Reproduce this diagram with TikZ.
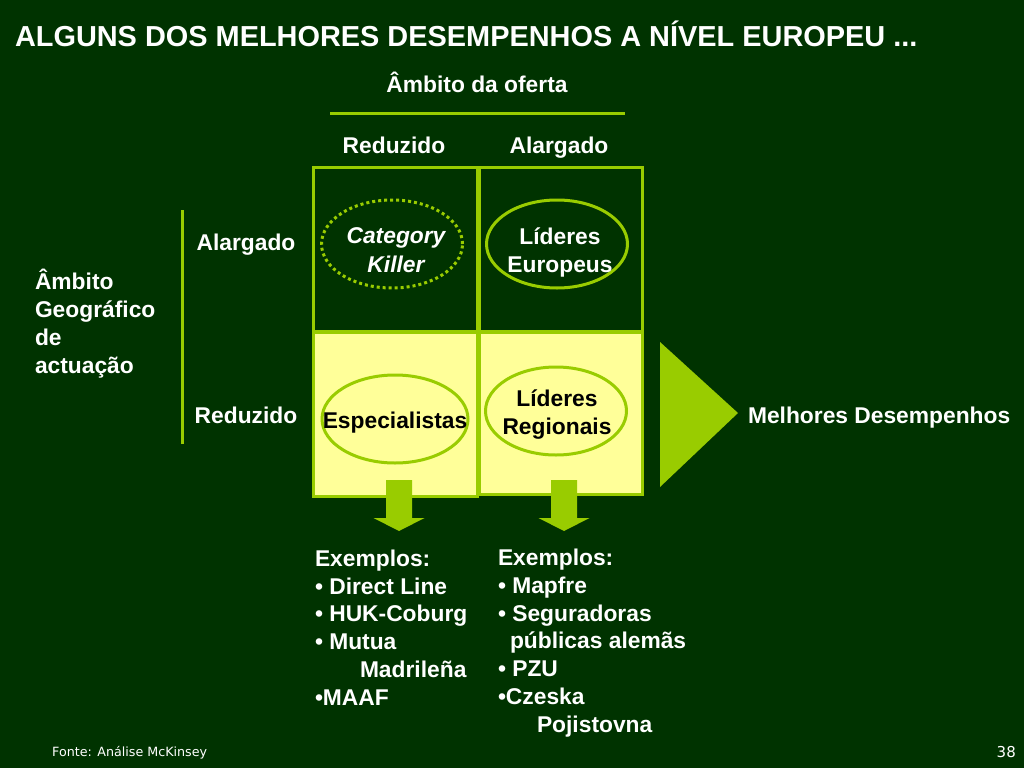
\documentclass[tikz,border=0pt]{standalone}
\usepackage{fontspec}
\setmainfont{Liberation Sans}
\newfontfamily\footfont{DejaVu Sans}
\usepackage{tikz}
\usetikzlibrary{shapes.geometric}
\usepackage{xcolor}
\definecolor{bggreen}{RGB}{0,51,0}
\definecolor{lime}{RGB}{153,204,0}
\definecolor{paleyellow}{RGB}{255,255,153}
\tikzstyle{txt}=[inner sep=0pt, outer sep=0pt, text=white, font=\bfseries\fontsize{22.8}{27.7}\selectfont]
\tikzstyle{darktxt}=[txt, text=black]
\tikzstyle{cell}=[draw=lime, line width=3pt, fill=bggreen, minimum width=164pt, minimum height=164pt, inner sep=0pt]
\tikzstyle{litcell}=[cell, fill=paleyellow]
\tikzstyle{ring}=[ellipse, draw=lime, line width=3pt, minimum width=141pt, minimum height=88pt, inner sep=0pt]
\tikzstyle{bar}=[draw=lime, line width=3pt]
\tikzstyle{block}=[fill=lime, draw=none]

\begin{document}
\begin{tikzpicture}[x=1pt, y=-1pt]
	% background
	\fill[bggreen] (0,0) rectangle (1024,768);
	\useasboundingbox (0,0) rectangle (1024,768);

	\node[txt, anchor=base west, font=\bfseries\fontsize{28.9}{32}\selectfont] (title) at (15,46) {ALGUNS DOS MELHORES DESEMPENHOS A NÍVEL EUROPEU ...};

	% axis: offer
	\node[txt, anchor=base] (oferta) at (477,92) {Âmbito da oferta};
	\coordinate (of_l) at (330,113);
	\coordinate (of_r) at (625,113);
	\draw[bar] (of_l) -- (of_r);
	\node[txt, anchor=base] (of_red) at (394,153) {Reduzido};
	\node[txt, anchor=base] (of_alg) at (559,153) {Alargado};

	% axis: geography
	\coordinate (geo_t) at (182,210);
	\coordinate (geo_b) at (182,444);
	\draw[bar] (geo_t) -- (geo_b);
	\node[txt, anchor=base west, align=left] (geo) at (35,373) {Âmbito\\Geográfico\\de\\actuação};
	\node[txt, anchor=base] (geo_alg) at (246,250) {Alargado};
	\node[txt, anchor=base] (geo_red) at (246,423) {Reduzido};

	% matrix
	\node[cell] (c_tl) at (395,249) {};
	\node[cell, minimum width=163pt] (c_tr) at (560.5,249) {};
	\node[litcell] (c_bl) at (395,414) {};
	\node[litcell, minimum width=163pt, minimum height=162pt] (c_br) at (560.5,413) {};

	\node[ring, dash pattern=on 3pt off 3pt] (killer) at (392,244) {};
	\node[txt, align=center, anchor=base, font=\bfseries\itshape\fontsize{22.8}{28.5}\selectfont] (killer_t) at (396,272) {Category\\Killer};
	\node[ring] (europa) at (557,244) {};
	\node[txt, align=center, anchor=base] (europa_t) at (560,272) {Líderes\\Europeus};
	\node[ring, fill=paleyellow, minimum width=146pt] (espec) at (395,419) {};
	\node[darktxt, anchor=base] (espec_t) at (395,428) {Especialistas};
	\node[ring, fill=paleyellow] (regiao) at (556,411) {};
	\node[darktxt, align=center, anchor=base] (regiao_t) at (557,434) {Líderes\\Regionais};

	% down arrows
	\foreach \cx in {399,564}{
		\fill[block] (\cx-13,480) -- (\cx+13,480) -- (\cx+13,518) -- (\cx+25.5,518)
			-- (\cx,531) -- (\cx-25.5,518) -- (\cx-13,518) -- cycle;
	}

	% result
	\fill[block] (660,342) -- (738,413) -- (660,487) -- cycle;
	\node[txt, anchor=base west] (melhores) at (748,423) {Melhores Desempenhos};

	% examples
	\node[txt, anchor=base west, align=left] (ex_1) at (315,705) {Exemplos:\\• Direct Line\\• HUK-Coburg\\• Mutua\\\hspace*{45pt}Madrileña\\•MAAF};
	\node[txt, anchor=base west, align=left] (ex_2) at (498,732) {Exemplos:\\• Mapfre\\• Seguradoras\\\hspace*{12pt}públicas alemãs\\• PZU\\•Czeska\\\hspace*{39pt}Pojistovna};

	% footer
	\node[anchor=base west, inner sep=0pt, text=white, font=\footfont\fontsize{12.7}{14}\selectfont] (fonte) at (52,756) {Fonte: Análise McKinsey};
	\node[anchor=base east, inner sep=0pt, text=white, font=\footfont\fontsize{15}{16}\selectfont] (pagina) at (1016,757) {38};
\end{tikzpicture}
\end{document}
